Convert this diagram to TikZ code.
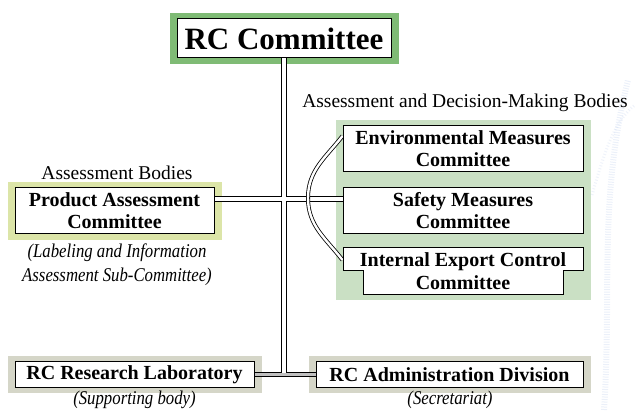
\documentclass[tikz,border=0pt]{standalone}
\usepackage{fontspec}
\setmainfont{Liberation Serif}
\newfontfamily\notefont[FakeStretch=0.86]{Liberation Serif}

\pgfdeclarelayer{back}
\pgfdeclarelayer{wires}
\pgfsetlayers{back,wires,main}

\begin{document}
\begin{tikzpicture}[x=1pt,y=1pt,
    box/.style={draw, fill=white, line width=1, inner sep=0, align=center,
                font=\fontsize{20}{22}\selectfont\bfseries},
    heading/.style={inner sep=0, font=\fontsize{19.5}{22}\selectfont},
    note/.style={inner sep=0, align=center, font=\notefont\itshape\fontsize{19.5}{24}\selectfont}]
     % Define colors
        \definecolor{rcgreen}{RGB}{127, 187, 117}   % frame of the top committee
        \definecolor{asyellow}{RGB}{220, 229, 168}  % frame of the assessment body
        \definecolor{suppgray}{RGB}{213, 214, 200}  % frame of the two bottom units
        \definecolor{groupgreen}{RGB}{202, 224, 196} % decision-making group
        \definecolor{wash}{RGB}{176, 196, 232}      % faint background art

        \useasboundingbox (0,0) rectangle (635,410);

        % Boxes
        \node[box, minimum width=214, minimum height=39,
              font=\fontsize{31}{32}\selectfont\bfseries] (top) at (284,371.5) {RC Committee};

        \node[heading] (asslabel) at (117,237) {Assessment Bodies};
        \node[box, minimum width=199, minimum height=46] (prod) at (114.5,199)
            {Product Assessment\\Committee};
        \node[note] (prodnote) at (117,145)
            {(Labeling and Information\\Assessment Sub-Committee)};

        \node[heading] (declabel) at (465,307) {Assessment and Decision-Making Bodies};
        \node[box, minimum width=240, minimum height=46] (env) at (463,261)
            {Environmental Measures\\Committee};
        \node[box, minimum width=240, minimum height=46] (safety) at (463,199)
            {Safety Measures\\Committee};
        % stepped outline of the export committee
        \filldraw[fill=white, line width=1] (343,162) -- (583,162) -- (583,139) -- (563,139)
            -- (563,115) -- (363,115) -- (363,139) -- (343,139) -- cycle;
        \node[box, draw=none, fill=none, minimum width=240, minimum height=46,
              font=\fontsize{20}{23}\selectfont\bfseries] (exp) at (463,138.5)
            {Internal Export Control\\Committee};

        \node[box, minimum width=239, minimum height=25] (lab) at (134.5,35.5) {RC Research Laboratory};
        \node[note] (labnote) at (134.5,10) {(Supporting body)};
        \node[box, minimum width=267, minimum height=25] (admin) at (449.5,35.5) {RC Administration Division};
        \node[note] (adminnote) at (450,10) {(Secretariat)};

        % Frames behind the boxes
        \begin{pgfonlayer}{back}
            \fill[groupgreen] (336,110) rectangle (591,290);
            \foreach \n/\c in {top/rcgreen, prod/asyellow, lab/suppgray, admin/suppgray}
                \fill[\c] ([shift={(-7,-5.5)}]\n.south west) rectangle ([shift={(7,5.5)}]\n.north east);
            % faint art at the right edge
            \draw[wash, line width=6, opacity=0.25, dash pattern=on 1pt off 1.5pt]
                (604,0) .. controls (612,120) and (598,210) .. (628,330);
            \draw[wash, line width=3, opacity=0.2, dash pattern=on 1pt off 2pt]
                (592,215) .. controls (605,260) and (615,290) .. (635,305);
        \end{pgfonlayer}

        % Connectors
        \begin{pgfonlayer}{wires}
            \coordinate (hub) at (top.south |- lab.east);
            \coordinate (bend) at (308,212);
            \draw[line width=6.6] (top.south) -- (hub);
            \draw[line width=6.6] ([yshift=12]prod.east) -- ([yshift=12]safety.west);
            \draw[line width=4.4] (lab.east) -- (admin.west);
            \draw[white, line width=4.6] (top.south) -- (hub);
            \draw[white, line width=4.6] ([yshift=12]prod.east) -- ([yshift=12]safety.west);
            \draw[black!25, line width=2.4] (lab.east) -- (admin.west);
            % bracket joining the three committees
            \draw[double, double distance=2.4, line width=0.8]
                ([yshift=13]env.west) to[out=232, in=90] (bend)
                to[out=270, in=128] ([yshift=11.5]exp.west);
        \end{pgfonlayer}
    \end{tikzpicture}
\end{document}
